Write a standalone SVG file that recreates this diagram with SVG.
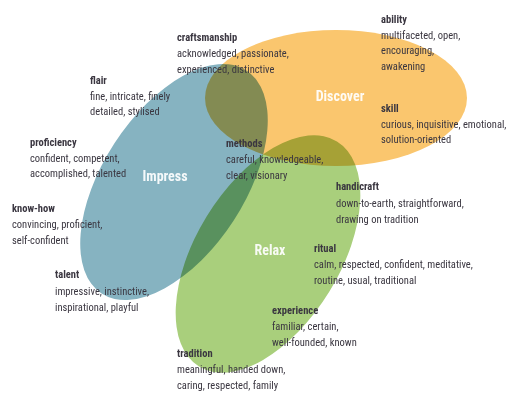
<svg xmlns="http://www.w3.org/2000/svg" width="512" height="394" viewBox="0 0 512 394">
<style>
.e{mix-blend-mode:multiply}
text{font-family:"Liberation Sans Narrow","Roboto Condensed","Liberation Sans",sans-serif;font-size:10.5px;fill:#3a3640}
.h{font-weight:bold}
.c{fill:#fff;font-size:14px;font-weight:bold;text-anchor:middle;fill-opacity:0.92}
</style>
<rect width="512" height="394" fill="#fff"/>
<g id="connectors"/>
<g id="discover-set"><ellipse class="e" cx="336" cy="98" rx="131" ry="68" fill="#fac66e"/></g>
<g id="impress-set"><ellipse class="e" cx="174" cy="182" rx="133" ry="71" transform="rotate(-57 174 182)" fill="#86b3c1"/></g>
<g id="relax-set"><ellipse class="e" cx="268" cy="254" rx="132" ry="72" transform="rotate(-58.5 268 254)" fill="#a9cf7c"/></g>
<g id="labels">
<text class="c" x="340" y="101">Discover</text>
<text class="c" x="165" y="181">Impress</text>
<text class="c" x="270" y="255">Relax</text>
</g>
<g id="craftsmanship"><text x="177" y="41"><tspan class="h">craftsmanship</tspan><tspan x="177" dy="16">acknowledged, passionate,</tspan><tspan x="177" dy="16">experienced, distinctive</tspan></text></g>
<g id="ability"><text x="381" y="23"><tspan class="h">ability</tspan><tspan x="381" dy="15.7">multifaceted, open,</tspan><tspan x="381" dy="15.7">encouraging,</tspan><tspan x="381" dy="15.7">awakening</tspan></text></g>
<g id="skill"><text x="381" y="112"><tspan class="h">skill</tspan><tspan x="381" dy="15.7">curious, inquisitive, emotional,</tspan><tspan x="381" dy="15.7">solution-oriented</tspan></text></g>
<g id="flair"><text x="90" y="84"><tspan class="h">flair</tspan><tspan x="90" dy="15.7">fine, intricate, finely</tspan><tspan x="90" dy="15.7">detailed, stylised</tspan></text></g>
<g id="proficiency"><text x="30" y="146"><tspan class="h">proficiency</tspan><tspan x="30" dy="15.7">confident, competent,</tspan><tspan x="30" dy="15.7">accomplished, talented</tspan></text></g>
<g id="know-how"><text x="12" y="212"><tspan class="h">know-how</tspan><tspan x="12" dy="16">convincing, proficient,</tspan><tspan x="12" dy="16">self-confident</tspan></text></g>
<g id="talent"><text x="55" y="278"><tspan class="h">talent</tspan><tspan x="55" dy="16.5">impressive, instinctive,</tspan><tspan x="55" dy="16">inspirational, playful</tspan></text></g>
<g id="methods"><text x="226" y="147"><tspan class="h">methods</tspan><tspan x="226" dy="16">careful, knowledgeable,</tspan><tspan x="226" dy="15.5">clear, visionary</tspan></text></g>
<g id="handicraft"><text x="336" y="190"><tspan class="h">handicraft</tspan><tspan x="336" dy="16.5">down-to-earth, straightforward,</tspan><tspan x="336" dy="16">drawing on tradition</tspan></text></g>
<g id="ritual"><text x="314" y="252"><tspan class="h">ritual</tspan><tspan x="314" dy="16">calm, respected, confident, meditative,</tspan><tspan x="314" dy="16">routine, usual, traditional</tspan></text></g>
<g id="experience"><text x="272" y="314"><tspan class="h">experience</tspan><tspan x="272" dy="16">familiar, certain,</tspan><tspan x="272" dy="16">well-founded, known</tspan></text></g>
<g id="tradition"><text x="177" y="357"><tspan class="h">tradition</tspan><tspan x="177" dy="16">meaningful, handed down,</tspan><tspan x="177" dy="16">caring, respected, family</tspan></text></g>
</svg>
